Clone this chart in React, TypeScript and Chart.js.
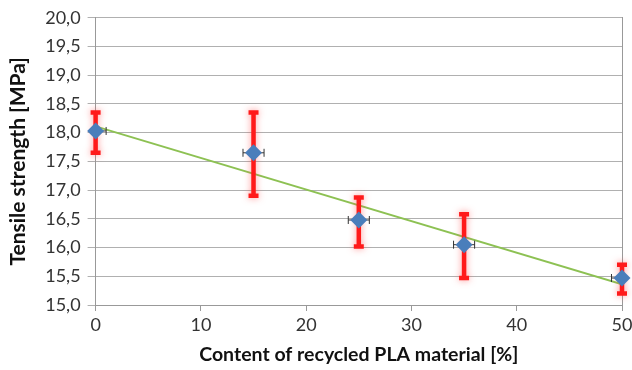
import { useEffect, useRef } from 'react';
import { Chart, registerables } from 'chart.js';
Chart.register(...registerables);

const contentPct = [0, 15, 25, 35, 50];
const strength = [18.03, 17.65, 16.48, 16.05, 15.47];
const strengthLow = [17.65, 16.9, 16.02, 15.47, 15.2];
const strengthHigh = [18.35, 18.35, 16.87, 16.58, 15.7];
const contentErr = [1, 1, 1, 1, 1];
const trendX = [0, 50];
const trendY = [18.11, 15.36];
const xTitle = 'Content of recycled PLA material [%]';
const yTitle = 'Tensile strength [MPa]';

const FONT = 'Lato, "Open Sans", sans-serif';

const errorBars = {
  id: 'errorBars',
  afterDatasetsDraw(chart: any) {
    const ctx = chart.ctx;
    const xs = chart.scales.x;
    const ys = chart.scales.y;
    const area = chart.chartArea;
    ctx.save();
    ctx.strokeStyle = '#ff1a1a';
    ctx.lineWidth = 4.5;
    ctx.shadowColor = 'rgba(255,60,60,0.55)';
    ctx.shadowBlur = 7;
    ctx.lineCap = 'butt';
    for (let i = 0; i < contentPct.length; i++) {
      const px = xs.getPixelForValue(contentPct[i]);
      const y1 = ys.getPixelForValue(strengthLow[i]);
      const y2 = ys.getPixelForValue(strengthHigh[i]);
      ctx.beginPath();
      ctx.moveTo(px, y1);
      ctx.lineTo(px, y2);
      ctx.moveTo(px - 5, y1);
      ctx.lineTo(px + 5, y1);
      ctx.moveTo(px - 5, y2);
      ctx.lineTo(px + 5, y2);
      ctx.stroke();
    }
    ctx.restore();
    ctx.save();
    ctx.beginPath();
    ctx.rect(area.left, area.top - 10, area.right - area.left, area.bottom - area.top + 20);
    ctx.clip();
    ctx.strokeStyle = '#333';
    ctx.lineWidth = 1;
    for (let i = 0; i < contentPct.length; i++) {
      const py = ys.getPixelForValue(strength[i]);
      const x1 = xs.getPixelForValue(contentPct[i] - contentErr[i]);
      const x2 = xs.getPixelForValue(contentPct[i] + contentErr[i]);
      ctx.beginPath();
      ctx.moveTo(x1, py);
      ctx.lineTo(x2, py);
      ctx.moveTo(x1, py - 4);
      ctx.lineTo(x1, py + 4);
      ctx.moveTo(x2, py - 4);
      ctx.lineTo(x2, py + 4);
      ctx.stroke();
    }
    ctx.restore();
    ctx.save();
    ctx.fillStyle = '#4a7ebb';
    for (let i = 0; i < contentPct.length; i++) {
      const px = xs.getPixelForValue(contentPct[i]);
      const py = ys.getPixelForValue(strength[i]);
      const r = 8.5;
      ctx.beginPath();
      ctx.moveTo(px, py - r);
      ctx.lineTo(px + r, py);
      ctx.lineTo(px, py + r);
      ctx.lineTo(px - r, py);
      ctx.closePath();
      ctx.fill();
    }
    ctx.restore();
  },
};

export default function App() {
  const ref = useRef<HTMLCanvasElement>(null);
  useEffect(() => {
    const chart = new Chart(ref.current!, {
      type: 'scatter',
      data: {
        datasets: [
          {
            label: 'trend',
            data: trendX.map((x, i) => ({ x, y: trendY[i] })),
            showLine: true,
            borderColor: '#8dc153',
            borderWidth: 2,
            pointRadius: 0,
          },
          {
            label: 'strength',
            data: contentPct.map((x, i) => ({ x, y: strength[i] })),
            pointRadius: 0,
            borderColor: 'transparent',
            backgroundColor: 'transparent',
          },
        ],
      },
      options: {
        animation: false,
        responsive: false,
        maintainAspectRatio: false,
        layout: { padding: { right: 0, top: 3, left: 6, bottom: 3 } },
        plugins: { legend: { display: false }, tooltip: { enabled: false } },
        scales: {
          x: {
            type: 'linear',
            min: 0,
            max: 50,
            afterFit: (s: any) => { s.paddingRight = 10; },
            ticks: { stepSize: 10, color: '#333', font: { family: FONT, size: 18 }, padding: 3 },
            grid: { display: true, drawOnChartArea: false, drawTicks: true, tickLength: 6, color: '#999' },
            border: { display: true, color: '#999' },
            title: { display: true, text: xTitle, color: '#111', font: { family: FONT, size: 19.5, weight: 'bold' }, padding: { top: 4, bottom: 1 } },
          },
          y: {
            min: 15,
            max: 20,
            ticks: {
              stepSize: 0.5,
              color: '#333',
              font: { family: FONT, size: 18 },
              padding: 7,
              callback: (v: any) => Number(v).toFixed(1).replace('.', ','),
            },
            grid: { color: '#b0b0b0', tickLength: 8 },
            border: { display: true, color: '#999' },
            title: { display: true, text: yTitle, color: '#111', font: { family: FONT, size: 21, weight: 'bold' }, padding: { top: 0, bottom: 7 } },
          },
          y2: {
            position: 'right',
            min: 15,
            max: 20,
            ticks: { display: false },
            grid: { display: false, drawTicks: false },
            border: { display: true, color: '#999' },
          },
        },
      },
      plugins: [errorBars],
    });
    return () => chart.destroy();
  }, []);
  return (
    <div style={{ position: 'fixed', left: 0, top: 0, width: 632, height: 370, background: '#fff' }}>
      <canvas ref={ref} width={632} height={370} />
    </div>
  );
}
